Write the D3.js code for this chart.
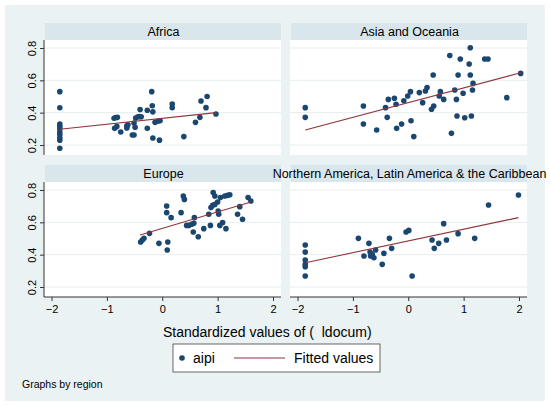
<!DOCTYPE html>
<html>
<head>
<meta charset="utf-8">
<script src="https://cdn.jsdelivr.net/npm/d3@7"></script>
<style>
  body { margin: 0; background: #fff; }
  text { font-family: "Liberation Sans", Arial, sans-serif; fill: #000; }
</style>
</head>
<body>
<div id="chart"></div>
<script>
// ---------------------------------------- data ----------------------------------------
const regions = ["Africa", "Asia and Oceania", "Europe", "Northern America, Latin America & the Caribbean"];

const xTicks = [-2, -1, 0, 1, 2];
const yTicks = [0.2, 0.4, 0.6, 0.8];

// [standardized ldocum, aipi]
const africaPts = [
  [-1.85,0.53],[-1.85,0.43],[-1.85,0.33],[-1.85,0.315],[-1.85,0.30],[-1.85,0.28],[-1.85,0.265],
  [-1.85,0.245],[-1.85,0.23],[-1.85,0.18],
  [-0.87,0.365],[-0.84,0.37],[-0.81,0.371],[-0.86,0.303],[-0.82,0.315],[-0.75,0.28],[-0.64,0.305],
  [-0.64,0.318],[-0.62,0.325],[-0.54,0.262],[-0.51,0.262],[-0.51,0.336],[-0.49,0.31],[-0.48,0.367],
  [-0.44,0.375],[-0.41,0.376],[-0.38,0.374],[-0.40,0.42],[-0.27,0.415],[-0.27,0.303],[-0.19,0.53],
  [-0.18,0.443],[-0.17,0.405],[-0.17,0.243],[-0.13,0.34],[-0.08,0.347],[-0.04,0.35],[-0.05,0.23],
  [0.18,0.453],[0.18,0.43],[0.39,0.252],[0.60,0.34],[0.68,0.371],[0.70,0.472],[0.79,0.431],
  [0.81,0.50],[0.97,0.392]
];
const asiaPts = [
  [-1.86,0.431],[-1.86,0.371],[-0.81,0.441],[-0.81,0.330],[-0.57,0.293],[-0.41,0.431],[-0.38,0.371],
  [-0.36,0.482],[-0.25,0.489],[-0.22,0.452],[-0.21,0.303],[-0.12,0.330],[-0.08,0.474],[-0.01,0.503],
  [0.04,0.530],[0.05,0.35],[0.10,0.252],[0.20,0.524],[0.26,0.462],[0.31,0.534],[0.34,0.555],
  [0.42,0.421],[0.46,0.441],[0.45,0.633],[0.56,0.503],[0.58,0.53],[0.64,0.482],[0.75,0.753],
  [0.78,0.272],[0.84,0.54],[0.87,0.482],[0.88,0.379],[0.90,0.633],[0.94,0.732],[0.99,0.52],
  [1.02,0.369],[1.10,0.701],[1.12,0.633],[1.12,0.802],[1.14,0.379],[1.16,0.54],[1.17,0.581],
  [1.38,0.732],[1.44,0.732],[1.78,0.493],[2.03,0.643]
];
const europePts = [
  [-0.39,0.478],[-0.36,0.491],[-0.33,0.501],[-0.23,0.532],[-0.06,0.47],[0.08,0.701],[0.08,0.66],
  [0.10,0.478],[0.09,0.429],[0.16,0.629],[0.34,0.66],[0.38,0.763],[0.40,0.742],[0.44,0.581],
  [0.48,0.581],[0.53,0.588],[0.57,0.594],[0.58,0.629],[0.56,0.54],[0.65,0.511],[0.75,0.561],
  [0.84,0.65],[0.87,0.581],[0.88,0.691],[0.91,0.705],[0.92,0.784],[0.95,0.763],[0.95,0.711],
  [1.00,0.726],[1.01,0.67],[1.02,0.65],[1.04,0.581],[1.09,0.598],[1.05,0.753],[1.13,0.763],
  [1.18,0.767],[1.22,0.771],[1.15,0.561],[1.36,0.65],[1.40,0.697],[1.45,0.619],[1.55,0.753],
  [1.60,0.732]
];
const americaPts = [
  [-1.86,0.46],[-1.86,0.416],[-1.86,0.367],[-1.86,0.34],[-1.86,0.326],[-1.86,0.268],
  [-0.90,0.501],[-0.80,0.392],[-0.71,0.47],[-0.69,0.416],[-0.68,0.392],[-0.65,0.40],[-0.62,0.381],
  [-0.59,0.429],[-0.47,0.34],[-0.44,0.408],[-0.34,0.501],[-0.30,0.439],[-0.04,0.54],[0.01,0.55],
  [0.07,0.268],[0.43,0.491],[0.47,0.439],[0.55,0.47],[0.64,0.592],[0.69,0.491],[0.90,0.53],
  [1.20,0.501],[1.45,0.707],[1.99,0.769]
];

// fitted values, ends of each regression line
const africaFit  = [[-1.85,0.297],[0.97,0.400]];
const asiaFit    = [[-1.86,0.293],[2.03,0.647]];
const europeFit  = [[-0.40,0.522],[1.60,0.726]];
const americaFit = [[-1.86,0.350],[1.99,0.629]];

// ---------------------------------------- layout ----------------------------------------
const W = 550, H = 406;
const colLeft = [44, 290], plotW = 237;
const rowTop = [40, 182], plotH = 115, stripH = 17;

const navy = "#1a476f", maroon = "#90353b";
const bg = "#eaf2f3", strip = "#d9e6eb", grid = "#e6eef0";

const panels = [
  {name: regions[0], pts: africaPts,  fit: africaFit,  col: 0, row: 0},
  {name: regions[1], pts: asiaPts,    fit: asiaFit,    col: 1, row: 0},
  {name: regions[2], pts: europePts,  fit: europeFit,  col: 0, row: 1},
  {name: regions[3], pts: americaPts, fit: americaFit, col: 1, row: 1}
];

const svg = d3.select("#chart")
  .append("svg")
    .attr("width", W)
    .attr("height", H);

svg.append("rect")
  .attr("x", 5).attr("y", 5)
  .attr("width", 540).attr("height", 396)
  .attr("fill", bg);

panels.forEach(p => {
  const left = colLeft[p.col], top = rowTop[p.row];

  const x = d3.scaleLinear().domain([-2, 2]).range([left + 7.5, left + plotW - 8]);
  const y = d3.scaleLinear().domain([0.2, 0.8]).range([top + 105, top + 8]);

  // title strip
  svg.append("rect")
    .attr("x", left + 1).attr("y", top - stripH)
    .attr("width", plotW - 1).attr("height", stripH)
    .attr("fill", strip);
  svg.append("text")
    .attr("x", left + plotW / 2 + 1)
    .attr("y", top - 4.5)
    .attr("text-anchor", "middle")
    .style("font-size", "12.5px")
    .text(p.name);

  // plot region
  svg.append("rect")
    .attr("x", left).attr("y", top)
    .attr("width", plotW).attr("height", plotH)
    .attr("fill", "#fff");

  // grid
  svg.append("g")
    .selectAll("line")
    .data(yTicks)
    .enter()
    .append("line")
      .attr("x1", left).attr("x2", left + plotW)
      .attr("y1", d => y(d)).attr("y2", d => y(d))
      .attr("stroke", grid)
      .attr("stroke-width", 1);

  // y axis on the left column only
  if (p.col === 0) {
    const ya = svg.append("g")
      .attr("transform", "translate(" + left + ",0)")
      .call(d3.axisLeft(y).tickValues(yTicks).tickSize(4).tickSizeOuter(0).tickFormat(d3.format(".1f")));
    ya.select(".domain").attr("d", "M0," + top + "V" + (top + plotH)).attr("stroke", "#333");
    ya.selectAll(".tick line").attr("stroke", "#333");
    ya.selectAll(".tick text")
      .attr("x", 0).attr("y", 0).attr("dy", 0)
      .attr("text-anchor", "middle")
      .attr("transform", "translate(-8,0) rotate(-90)")
      .style("font-size", "11px")
      .style("font-family", "Liberation Sans, Arial, sans-serif")
      .attr("fill", "#000");
  }

  // x axis on the bottom row only
  if (p.row === 1) {
    const xa = svg.append("g")
      .attr("transform", "translate(0," + (top + plotH) + ")")
      .call(d3.axisBottom(x).tickValues(xTicks).tickSize(4).tickSizeOuter(0).tickFormat(d3.format("d")));
    xa.select(".domain").attr("d", "M" + left + ",0H" + (left + plotW)).attr("stroke", "#333");
    xa.selectAll(".tick line").attr("stroke", "#333");
    xa.selectAll(".tick text")
      .attr("y", 8).attr("dy", "0.71em")
      .style("font-size", "11px")
      .style("font-family", "Liberation Sans, Arial, sans-serif")
      .attr("fill", "#000");
  }

  // points
  svg.append("g")
    .selectAll("circle")
    .data(p.pts)
    .enter()
    .append("circle")
      .attr("cx", d => x(d[0]))
      .attr("cy", d => y(d[1]))
      .attr("r", 2.8)
      .attr("fill", navy);

  // fitted line
  svg.append("path")
    .datum(p.fit)
    .attr("d", d3.line().x(d => x(d[0])).y(d => y(d[1])))
    .attr("fill", "none")
    .attr("stroke", maroon)
    .attr("stroke-width", 1.1);
});

// axis title
svg.append("text")
  .attr("x", 163).attr("y", 337)
  .style("font-size", "14px")
  .style("white-space", "pre")
  .attr("xml:space", "preserve")
  .text("Standardized values of (  ldocum)");

// legend
const lg = svg.append("g");
lg.append("rect")
  .attr("x", 173).attr("y", 344)
  .attr("width", 207).attr("height", 28)
  .attr("fill", "#fff")
  .attr("stroke", "#444")
  .attr("stroke-width", 0.8);
lg.append("circle").attr("cx", 182).attr("cy", 358).attr("r", 2.8).attr("fill", navy);
lg.append("text").attr("x", 193).attr("y", 363).style("font-size", "14px").text("aipi");
lg.append("line")
  .attr("x1", 234).attr("x2", 285).attr("y1", 358).attr("y2", 358)
  .attr("stroke", maroon).attr("stroke-width", 1.1);
lg.append("text").attr("x", 294).attr("y", 363).style("font-size", "14px").text("Fitted values");

// note
svg.append("text")
  .attr("x", 22).attr("y", 388)
  .style("font-size", "10.5px")
  .text("Graphs by region");
</script>
</body>
</html>
